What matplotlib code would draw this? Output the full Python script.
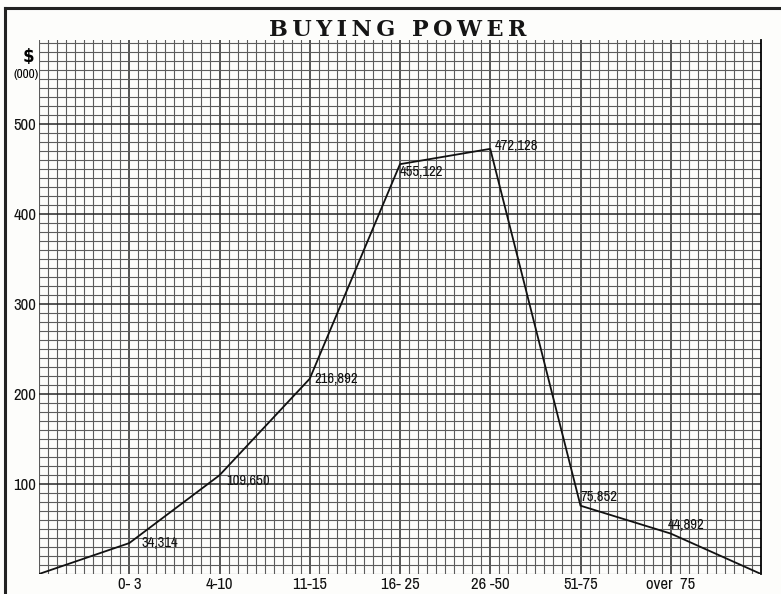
import numpy as np
import matplotlib.pyplot as plt
from matplotlib.lines import Line2D
from matplotlib.ticker import MultipleLocator

# Buying power by group, in $ thousands
groups = ["", "0- 3", "4-10", "11-15", "16- 25", "26 -50", "51-75", "over  75", ""]
power = [0, 34.314, 109.650, 216.892, 455.122, 472.128, 75.852, 44.892, 0]
y_ticks = [100, 200, 300, 400, 500]

x = np.arange(len(power))
narrow = ["Archivo Narrow", "DejaVu Sans"]

fig = plt.figure(figsize=(7.81, 5.94), dpi=100)
fig.patch.set_facecolor("#fdfdfb")
ax = fig.add_axes([39 / 781, 20 / 594, 722 / 781, 534 / 594])
ax.set_facecolor("#fdfdfb")

ax.set_xlim(0, 8)
ax.set_ylim(0, 593)

# graph paper
ax.xaxis.set_minor_locator(MultipleLocator(0.1))
ax.yaxis.set_minor_locator(MultipleLocator(10))
ax.set_xticks(x[1:-1])
ax.set_yticks(y_ticks)
ax.grid(which="minor", color="#5c5c5c", lw=0.8)
ax.grid(which="major", color="#262626", lw=1.1)
ax.set_axisbelow(True)

ax.plot(x, power, color="#111111", lw=1.3, zorder=3)

# point labels, offset in points
offsets = [None, (9, 0), (5, -4), (3, 0), (0, -6), (3, 2), (0, 6), (-2, 6), None]
for xi, v, off in zip(x, power, offsets):
    if off is None:
        continue
    ax.annotate(f"{v * 1000:,.0f}", (xi, v), xytext=off, textcoords="offset points",
                ha="left", va="center", fontsize=10.5, family=narrow, color="#111111",
                zorder=4)

ax.set_xticklabels(groups[1:-1], family=narrow, fontsize=12, color="#111111")
ax.set_yticklabels([str(t) for t in y_ticks], family=narrow, fontsize=12,
                   color="#111111")
ax.tick_params(which="both", length=0, pad=2)
ax.tick_params(axis="x", pad=2)
for s in ax.spines.values():
    s.set_visible(False)
ax.spines["right"].set_visible(True)
ax.spines["right"].set_linewidth(1.3)

fig.text(28 / 781, 1 - 57 / 594, "$", ha="center", va="center", fontsize=12,
         fontweight="bold", family="DejaVu Sans")
fig.text(26 / 781, 1 - 74 / 594, "(000)", ha="center", va="center", fontsize=9.5,
         family=narrow)

fig.text(398 / 781, 1 - 30 / 594, "\u2009".join("BUYING POWER"), ha="center",
         va="center", fontsize=16, fontweight="bold", family="DejaVu Serif",
         color="#151515")

# frame of the sheet
fig.add_artist(Line2D([5 / 781, 1], [1 - 8 / 594] * 2, color="#222222", lw=2.2,
                      transform=fig.transFigure))
fig.add_artist(Line2D([5 / 781] * 2, [0, 1 - 8 / 594], color="#222222", lw=2.2,
                      transform=fig.transFigure))

plt.savefig("out.png", dpi=100)
plt.close()
